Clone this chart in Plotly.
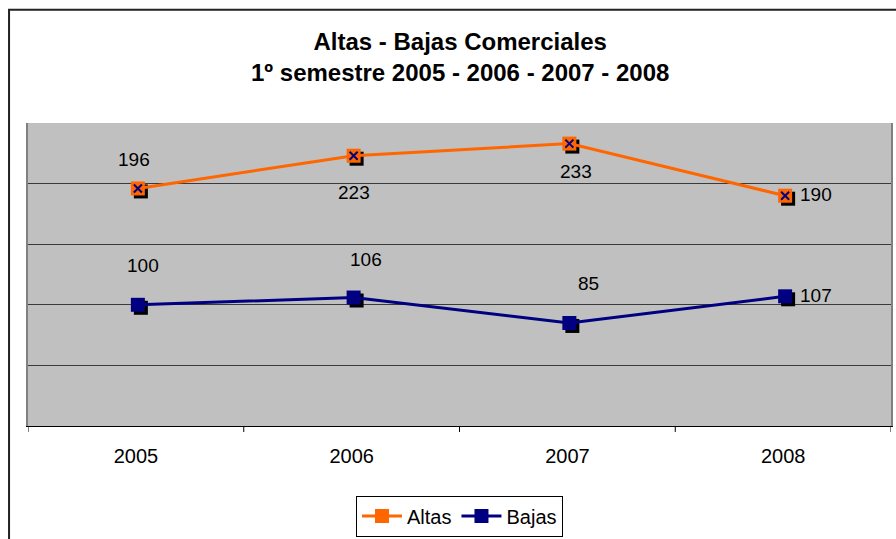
import plotly.graph_objects as go

years = ["2005", "2006", "2007", "2008"]
altas = [196, 223, 233, 190]
bajas = [100, 106, 85, 107]

# label offsets in pixels (layout only)
altas_off = [(-4, 29), (0, -37), (7, -28), (31, 1)]
bajas_off = [(5, 39), (12, 38), (19, 39), (31, 1)]

xs = list(range(len(years)))
W, H = 896, 539
ml, mr, mt, mb = 28, 3, 123, 111
pw = W - ml - mr
ph = H - mt - mb
ymax = 250
px_x = 4 / pw       # category units per pixel
px_y = ymax / ph    # value units per pixel
sh = 3              # shadow offset in px
dx_pts = 2 * px_x   # markers sit slightly right of category centre

ORANGE = "#FF6600"
NAVY = "#000080"

fig = go.Figure()
xp = [x + dx_pts for x in xs]

# shadows
for vals in (altas, bajas):
    fig.add_trace(go.Scatter(
        x=[x + sh * px_x for x in xp], y=[v - sh * px_y for v in vals],
        mode="markers", marker=dict(symbol="square", size=14, color="black"),
        showlegend=False, hoverinfo="skip"))

fig.add_trace(go.Scatter(
    x=xp, y=altas, name="Altas", mode="lines+markers",
    line=dict(color=ORANGE, width=3),
    marker=dict(symbol="square", size=14, color=ORANGE)))
fig.add_trace(go.Scatter(
    x=xp, y=altas, mode="markers", showlegend=False, hoverinfo="skip",
    marker=dict(symbol="x-thin", size=8, line=dict(color=NAVY, width=2))))
fig.add_trace(go.Scatter(
    x=xp, y=bajas, name="Bajas", mode="lines+markers",
    line=dict(color=NAVY, width=3),
    marker=dict(symbol="square", size=14, color=NAVY)))

font = "Liberation Sans, Arial, sans-serif"
for vals, offs in ((altas, altas_off), (bajas, bajas_off)):
    for x, v, (dx, dy) in zip(xp, vals, offs):
        fig.add_annotation(x=x, y=v, text=str(v), showarrow=False,
                           xshift=dx, yshift=dy,
                           font=dict(family=font, size=19, color="black"))

fig.add_annotation(xref="paper", yref="paper", x=0.5, y=(ph + mt - 57) / ph,
                   text="<b>Altas - Bajas Comerciales</b><br><b>1º semestre 2005 - 2006 - 2007 - 2008</b>",
                   showarrow=False, font=dict(family=font, size=24, color="black"),
                   yanchor="middle")

# outer frame
fig.add_shape(type="rect", xref="paper", yref="paper",
              x0=(9 - ml) / pw, x1=(W + 10 - ml) / pw,
              y0=-(mb + 20) / ph, y1=(ph + mt - 9) / ph,
              line=dict(color="#222222", width=2), layer="below")

fig.update_layout(
    width=W, height=H,
    margin=dict(l=ml, r=mr, t=mt, b=mb),
    paper_bgcolor="white", plot_bgcolor="#C0C0C0",
    font=dict(family=font, size=20, color="black"),
    showlegend=True,
    legend=dict(orientation="h", x=0.5, xanchor="center", y=-70 / ph, yanchor="top",
                bordercolor="black", borderwidth=1, bgcolor="white",
                font=dict(family=font, size=20), itemwidth=40),
    xaxis=dict(range=[-0.5, 3.5], tickmode="array", tickvals=xs, ticktext=years,
               showgrid=False, zeroline=False, showline=True, linecolor="black",
               ticks="outside", ticklen=12, tickcolor="rgba(0,0,0,0)",
               tickfont=dict(size=20), mirror=False),
    yaxis=dict(range=[0, ymax], dtick=50, showticklabels=False, showgrid=True,
               gridcolor="#3a3a3a", gridwidth=1, zeroline=False,
               showline=True, linecolor="#808080", linewidth=2, mirror=True),
)
# category boundary ticks on x axis
for b in [-0.5, 0.5, 1.5, 2.5, 3.5]:
    fig.add_shape(type="line", xref="x", yref="paper", x0=b, x1=b,
                  y0=0, y1=-6 / ph, line=dict(color="black", width=1))

fig.write_html("out.html", config={"displayModeBar": False},
               post_script="document.body.style.margin='0';")
